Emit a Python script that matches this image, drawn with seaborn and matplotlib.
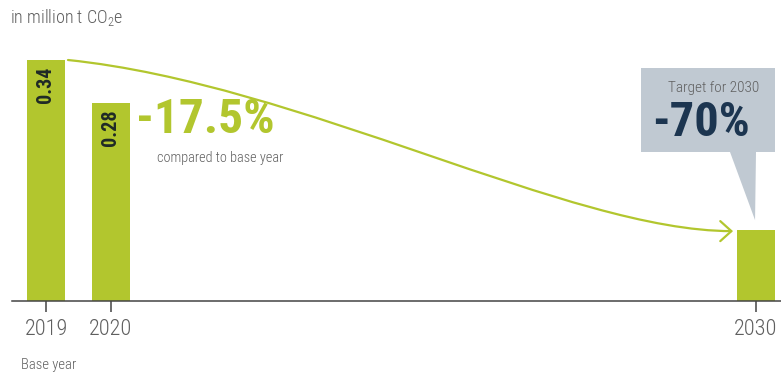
import matplotlib
matplotlib.use("Agg")
import matplotlib.pyplot as plt
import seaborn as sns
import pandas as pd
from matplotlib.path import Path
from matplotlib.patches import FancyArrowPatch, Polygon

# ---- data ----
years = [2019, 2020, 2030]
values = [0.34, 0.28, 0.10]
bar_labels = ["0.34", "0.28", ""]
tick_labels = ["2019", "2020", "2030"]
unit_label = "in million t CO$_2$e"
change_text = "-17.5%"
change_sub = "compared to base year"
target_title = "Target for 2030"
target_text = "-70%"
base_note = "Base year"

GREEN = "#b2c62e"
NAVY = "#1c3550"
GRAY = "#5f5f5f"
BOX = "#c0c9d2"

sns.set_theme(style="white")
plt.rcParams["font.family"] = ["Roboto Condensed", "DejaVu Sans"]
plt.rcParams["mathtext.default"] = "regular"

W, H = 781, 375
fig = plt.figure(figsize=(W / 100, H / 100), dpi=100)
ax = fig.add_axes([0, 0, 1, 1])

# pixel <-> data mapping for layout
X_PER_YEAR = 64.55
X0 = 2019 - 46 / X_PER_YEAR
Y_PER_UNIT = 708.8
BASE_PX = 301
def px(x):
    return X0 + x / X_PER_YEAR
def py(y):
    return (BASE_PX - y) / Y_PER_UNIT

df = pd.DataFrame({"year": years, "value": values})
bw = 38 / X_PER_YEAR
sns.barplot(data=df, x="year", y="value", native_scale=True, color=GREEN,
            saturation=1, width=bw, ax=ax, edgecolor="none", linewidth=0)

ax.set_xlim(px(0), px(W))
ax.set_ylim(py(H), py(0))
ax.set_xlabel("")
ax.set_ylabel("")
ax.set_yticks([])
for s in ["top", "right", "left"]:
    ax.spines[s].set_visible(False)
ax.spines["bottom"].set_position(("data", 0))
ax.spines["bottom"].set_bounds(px(12), px(W))
ax.spines["bottom"].set_color("#444444")
ax.spines["bottom"].set_linewidth(1.1)
ax.set_xticks(years)
ax.set_xticklabels(tick_labels, fontweight="light")
ax.tick_params(axis="x", direction="out", length=8, width=1.1, color="#444444",
               labelsize=16, labelcolor=GRAY, pad=5, bottom=True)

# bar value labels
for yr, v, lab in zip(years, values, bar_labels):
    if lab:
        ax.text(yr, v - 7 / Y_PER_UNIT, lab, rotation=90, ha="center", va="top",
                fontsize=14.5, fontweight="bold", color="#1f2a26")

# curved arrow from 2019 top to 2030 top
sx, sy = years[0] + bw / 2 + 3 / X_PER_YEAR, values[0]
ex, ey = years[2] - bw / 2 - 4 / X_PER_YEAR, values[2] - 1 / Y_PER_UNIT
dx, dy = ex - sx, ey - sy
verts = [(sx, sy), (sx + 0.35 * dx, sy + 0.14 * dy), (ex - 0.245 * dx, ey), (ex, ey)]
path = Path(verts, [Path.MOVETO, Path.CURVE4, Path.CURVE4, Path.CURVE4])
arrow = FancyArrowPatch(path=path, arrowstyle="->,head_length=0.5,head_width=0.45",
                        mutation_scale=16, color=GREEN, linewidth=1.6)
ax.add_patch(arrow)

# -17.5% annotation
ax.text(px(136), py(120), change_text, fontsize=35.5, fontweight="bold",
        color=GREEN, ha="left", va="center")
ax.text(px(157), py(158), change_sub, fontsize=10.3, color=GRAY, fontweight="light",
        ha="left", va="center")

# callout box
tip_x = years[2] - 1 / X_PER_YEAR
tip_y = values[2] + 10 / Y_PER_UNIT
box = Polygon([(px(641), py(68)), (px(775), py(68)), (px(775), py(152)),
               (px(756), py(152)), (tip_x, tip_y), (px(730), py(152)),
               (px(641), py(152))], closed=True, facecolor=BOX, edgecolor="none")
ax.add_patch(box)
ax.text(px(714), py(88), target_title, fontsize=11, color=GRAY, fontweight="light",
        ha="center", va="center")
ax.text(px(701), py(123), target_text, fontsize=35, fontweight="bold",
        color=NAVY, ha="center", va="center")

# unit label and base year note
ax.text(px(10), py(18), unit_label, fontsize=13, color=GRAY, fontweight="light",
        ha="left", va="center")
ax.text(years[0] + 3 / X_PER_YEAR, py(365), base_note, fontsize=10.5, color=GRAY,
        fontweight="light", ha="center", va="center")

fig.savefig("out.png", dpi=100)
